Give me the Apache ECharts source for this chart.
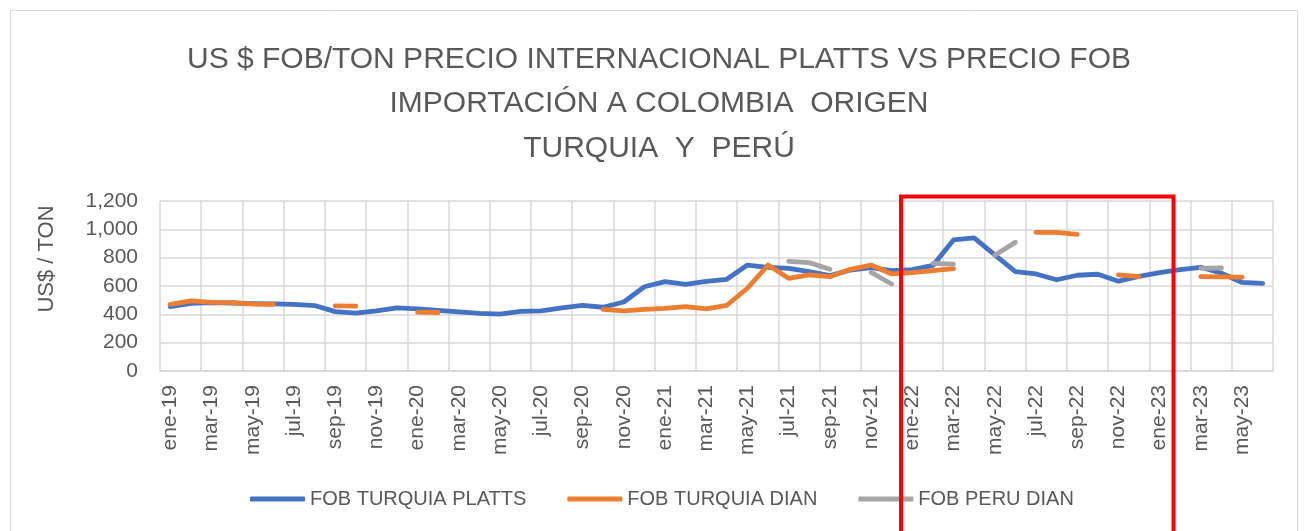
<!DOCTYPE html>
<html><head><meta charset="utf-8">
<script src="https://cdn.jsdelivr.net/npm/echarts@6/dist/echarts.min.js"></script>
<style>html,body{margin:0;padding:0;background:#fff;}#c{width:1308px;height:531px;}</style>
</head><body><div id="c"></div>
<script>
const categories = [
  'ene-19','feb-19','mar-19','abr-19','may-19','jun-19','jul-19','ago-19','sep-19','oct-19','nov-19','dic-19',
  'ene-20','feb-20','mar-20','abr-20','may-20','jun-20','jul-20','ago-20','sep-20','oct-20','nov-20','dic-20',
  'ene-21','feb-21','mar-21','abr-21','may-21','jun-21','jul-21','ago-21','sep-21','oct-21','nov-21','dic-21',
  'ene-22','feb-22','mar-22','abr-22','may-22','jun-22','jul-22','ago-22','sep-22','oct-22','nov-22','dic-22',
  'ene-23','feb-23','mar-23','abr-23','may-23','jun-23'
];
const seriesNames = ['FOB TURQUIA PLATTS', 'FOB TURQUIA DIAN', 'FOB PERU DIAN'];
const fobTurquiaPlatts = [
  455,478,482,480,476,474,470,462,419,409,424,445,
  438,428,417,407,402,421,424,445,464,450,487,595,
  631,612,633,647,748,732,725,701,673,713,729,708,
  715,745,925,940,820,701,685,644,676,683,634,668,
  694,715,732,690,625,619
];
const fobTurquiaDian = [
  470,495,485,483,472,470,null,null,460,458,null,null,
  415,413,null,null,null,null,null,null,null,435,424,435,
  442,454,438,464,584,748,654,678,666,718,748,685,
  694,708,722,null,null,null,979,978,965,null,678,666,
  null,null,666,664,662,null
];
const fobPeruDian = [
  null,null,null,null,null,null,null,null,null,null,null,null,
  null,null,null,null,null,null,null,null,null,null,null,null,
  null,null,null,null,null,null,774,765,718,null,696,614,
  null,760,755,null,817,908,null,null,null,null,null,null,
  null,null,725,727,null,null
];
const yTicks = [0, 200, 400, 600, 800, 1000, 1200];
const titleLines = ['US $ FOB/TON PRECIO INTERNACIONAL PLATTS VS PRECIO FOB', 'IMPORTACIÓN A COLOMBIA  ORIGEN', 'TURQUIA  Y  PERÚ'];
const yAxisTitle = 'US$ / TON';
const colors = ['#4472C4', '#ED7D31', '#A5A5A5'];

const FONT = 'Liberation Sans';
const TXT = '#595959';
const chart = echarts.init(document.getElementById('c'), null, {renderer: 'canvas'});
const mkLine = (name, data, color) => ({
  name, type: 'line', data, showSymbol: false, symbol: 'none', connectNulls: false,
  lineStyle: {color, width: 4.8, cap: 'round', join: 'round'}, itemStyle: {color},
  emphasis: {disabled: true}
});
chart.setOption({
  animation: false,
  color: colors,
  title: {
    text: titleLines.join('\n'), left: 654, top: 32, textAlign: 'center',
    textStyle: {fontFamily: FONT, fontSize: 30, fontWeight: 'normal', color: TXT, lineHeight: 44.5, align: 'center'}
  },
  grid: {left: 160, right: 35, top: 201, bottom: 160, containLabel: false},
  legend: {
    data: seriesNames, left: 245, top: 484, icon: 'roundRect', itemWidth: 55, itemHeight: 5, itemGap: 41,
    textStyle: {fontFamily: FONT, fontSize: 20, color: TXT}
  },
  xAxis: {
    type: 'category', data: categories, boundaryGap: true,
    axisLine: {lineStyle: {color: '#D9D9D9', width: 1.5}},
    axisTick: {show: false, interval: 1},
    axisLabel: {interval: 1, rotate: 90, margin: 14, fontFamily: FONT, fontSize: 21, color: TXT},
    splitLine: {show: true, interval: 1, lineStyle: {color: '#D9D9D9', width: 1.5}}
  },
  yAxis: {
    type: 'value', min: yTicks[0], max: yTicks[yTicks.length - 1], interval: yTicks[1] - yTicks[0],
    axisLine: {show: false}, axisTick: {show: false},
    axisLabel: {margin: 22, fontFamily: FONT, fontSize: 21, color: TXT, formatter: v => v.toLocaleString('en-US')},
    splitLine: {lineStyle: {color: '#D9D9D9', width: 1.5}}
  },
  graphic: [
    {type: 'rect', shape: {x: 10.5, y: 10.5, width: 1287, height: 560}, style: {fill: 'none', stroke: '#D9D9D9', lineWidth: 1}, silent: true, z: -1},
    {type: 'text', x: 47, y: 259, rotation: Math.PI / 2, style: {text: yAxisTitle, fontFamily: FONT, fontSize: 22, fill: TXT, textAlign: 'center', textVerticalAlign: 'middle'}},
    {type: 'rect', shape: {x: 901, y: 196.5, width: 272.5, height: 400}, style: {fill: 'none', stroke: '#FF0000', lineWidth: 4}, silent: true, z: 100}
  ],
  series: [
    mkLine(seriesNames[0], fobTurquiaPlatts, colors[0]),
    mkLine(seriesNames[1], fobTurquiaDian, colors[1]),
    mkLine(seriesNames[2], fobPeruDian, colors[2])
  ]
});
</script></body></html>
